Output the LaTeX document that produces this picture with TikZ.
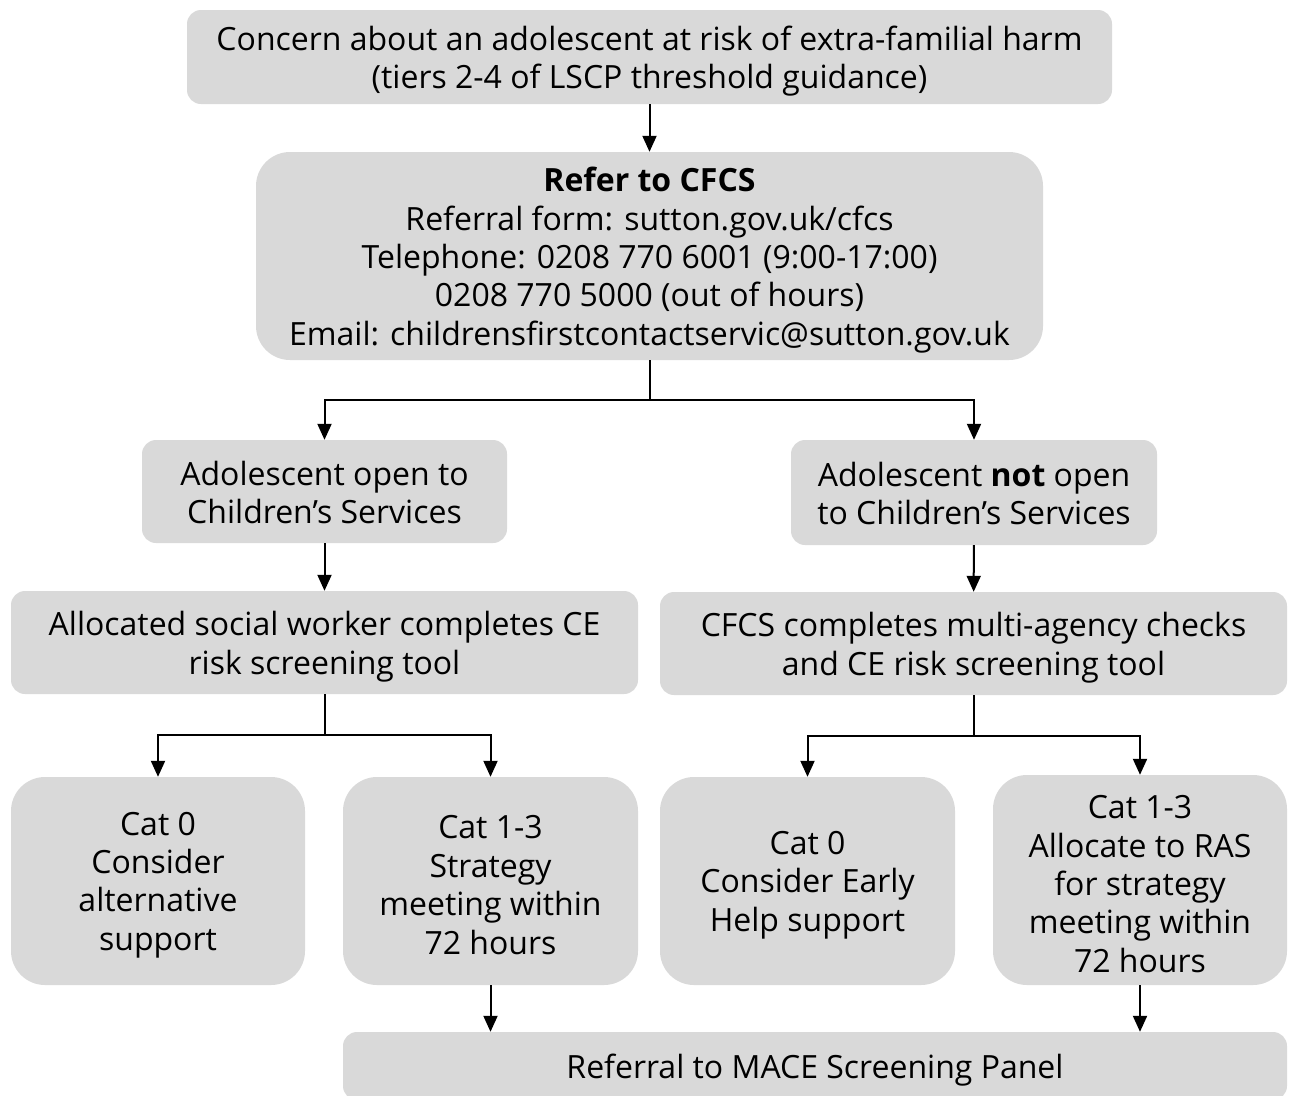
\documentclass[tikz,border=0pt]{standalone}
\usepackage{fontspec}
\setmainfont{Open Sans}
\usetikzlibrary{arrows.meta}
\definecolor{boxgray}{HTML}{D9D9D9}
\begin{document}
\begin{tikzpicture}[x=1pt,y=-1pt,
  box/.style={fill=boxgray,draw=none,inner sep=0pt},
  sbox/.style={box,rounded corners=14pt},
  bbox/.style={box,rounded corners=34pt},
  txt/.style={align=center,inner sep=0pt,yshift=-4pt,
    font=\fontsize{32}{38.4}\selectfont},
  arr/.style={line width=2pt,-{Triangle[width=14pt,length=16pt]}},
  ln/.style={line width=2pt}]
\useasboundingbox (0,0) rectangle (1292,1095);
\node[sbox,minimum width=925pt,minimum height=94pt] (top) at (649.5,57) {};
\node[txt] (top-t) at (top)
  {Concern about an adolescent at risk of extra-familial harm\\(tiers 2-4 of LSCP threshold guidance)};
\node[bbox,minimum width=787pt,minimum height=208pt] (refer) at (649.5,256) {};
\node[txt] (refer-t) at (refer)
  {\textbf{Refer to CFCS}\\Referral form: sutton.gov.uk/cfcs\\Telephone: 0208 770 6001 (9:00-17:00)\\0208 770 5000 (out of hours)\\Email: childrensfirstcontactservic@sutton.gov.uk};
\node[sbox,minimum width=365pt,minimum height=103pt] (openL) at (324.5,491.5) {};
\node[txt,yshift=3pt] (openL-t) at (openL) {Adolescent open to\\Children’s Services};
\node[sbox,minimum width=366pt,minimum height=105pt] (notR) at (974,492.5) {};
\node[txt,yshift=3pt] (notR-t) at (notR) {Adolescent \textbf{not} open\\to Children’s Services};
\node[sbox,minimum width=627pt,minimum height=103pt] (alloc) at (324.5,642.5) {};
\node[txt] (alloc-t) at (alloc) {Allocated social worker completes CE\\risk screening tool};
\node[sbox,minimum width=627pt,minimum height=103pt] (cfcs) at (973.5,643.5) {};
\node[txt] (cfcs-t) at (cfcs) {CFCS completes multi-agency checks\\and CE risk screening tool};
\node[bbox,minimum width=294pt,minimum height=208pt] (catzL) at (158,881) {};
\node[txt] (catzL-t) at (catzL) {Cat 0\\Consider\\alternative\\support};
\node[bbox,minimum width=295pt,minimum height=208pt] (catoL) at (490.5,881) {};
\node[txt] (catoL-t) at (catoL) {Cat 1-3\\Strategy\\meeting within\\72 hours};
\node[bbox,minimum width=295pt,minimum height=208pt] (catzR) at (807.5,881) {};
\node[txt] (catzR-t) at (catzR) {Cat 0\\Consider Early\\Help support};
\node[bbox,minimum width=294pt,minimum height=210pt] (catoR) at (1140,880) {};
\node[txt] (catoR-t) at (catoR) {Cat 1-3\\Allocate to RAS\\for strategy\\meeting within\\72 hours};
\node[sbox,minimum width=944pt,minimum height=68pt] (mace) at (815,1066) {};
\node[txt] (mace-t) at (mace) {Referral to MACE Screening Panel};
\coordinate (j1) at (649.5,400);
\coordinate (j2) at (324.5,735);
\coordinate (j3) at (973.5,736);
\draw[arr] (top) -- (refer);
\draw[ln] (refer.south) -- (j1);
\draw[arr] (j1) -| (openL.north);
\draw[arr] (j1) -| (notR.north);
\draw[arr] (openL) -- (alloc);
\draw[arr] (notR) -- (cfcs);
\draw[ln] (alloc.south) -- (j2);
\draw[arr] (j2) -| (catzL.north);
\draw[arr] (j2) -| (catoL.north);
\draw[ln] (cfcs.south) -- (j3);
\draw[arr] (j3) -| (catzR.north);
\draw[arr] (j3) -| (catoR.north);
\draw[arr] (catoL.south) -- (catoL.south |- mace.north);
\draw[arr] (catoR.south) -- (catoR.south |- mace.north);
\end{tikzpicture}
\end{document}
